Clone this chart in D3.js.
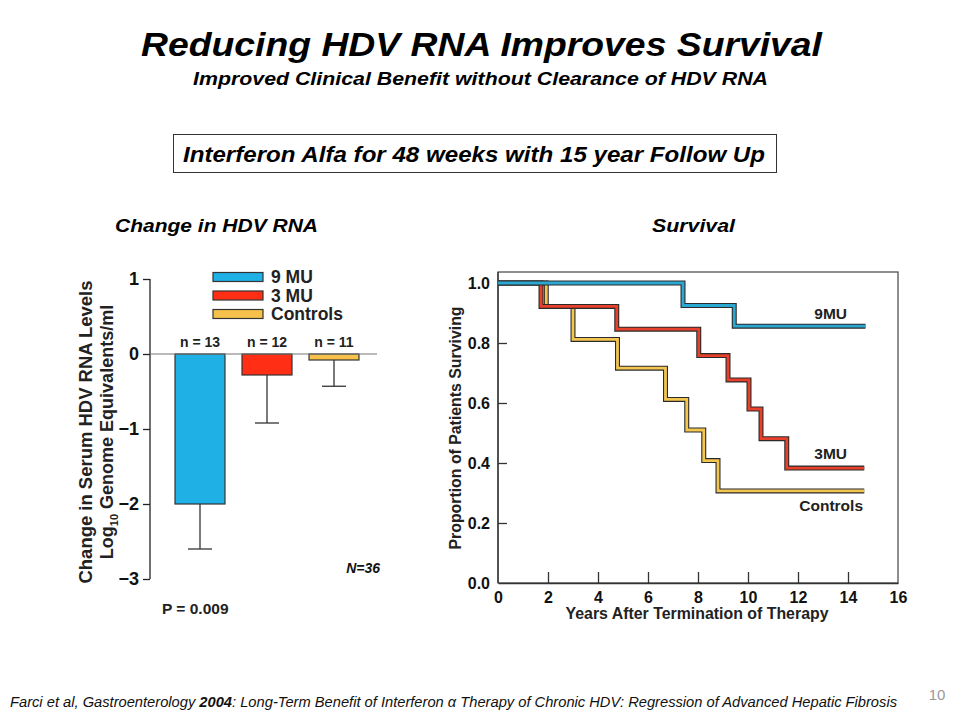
<!DOCTYPE html>
<html><head><meta charset="utf-8">
<script src="https://cdn.jsdelivr.net/npm/d3@7"></script>
<style>body{margin:0;background:#fff}svg{display:block}text{font-family:"Liberation Sans",Arial,sans-serif}</style>
</head><body>
<svg id="c" width="960" height="720"></svg>
<script>
// ---- Data ----
const groups = ["9 MU", "3 MU", "Controls"];
const groupN = ["n = 13", "n = 12", "n = 11"];
const meanChange = [-2.0, -0.28, -0.08];
const errLow = [-2.6, -0.92, -0.43];
const barColors = ["#1fb0e6", "#ff2e14", "#f5c14a"];
const barYTicks = [1, 0, -1, -2, -3];

const survSeries = ["9MU", "3MU", "Controls"];
const lineColors = ["#2ba8d2", "#e8412b", "#f3c650"];
// Kaplan-Meier steps: [time, survival after step]
const km9 = [[0, 1.0], [7.4, 0.925], [9.45, 0.856], [14.7, 0.856]];
const km3 = [[0, 1.0], [1.72, 0.922], [4.75, 0.846], [8.03, 0.758], [9.2, 0.677], [10.04, 0.58], [10.52, 0.481], [11.55, 0.383], [14.65, 0.383]];
const kmC = [[0, 1.0], [1.93, 0.922], [3.0, 0.812], [4.78, 0.716], [6.7, 0.612], [7.55, 0.51], [8.23, 0.408], [8.8, 0.307], [14.65, 0.307]];
const survXTicks = [0, 2, 4, 6, 8, 10, 12, 14, 16];
const survYTicks = [0.0, 0.2, 0.4, 0.6, 0.8, 1.0];

const svg = d3.select("#c");

function txt(x, y, s, size, opts) {
  opts = opts || {};
  const t = svg.append("text").attr("x", x).attr("y", y).attr("font-size", size)
    .attr("font-weight", opts.weight || "bold").attr("font-style", opts.style || "italic")
    .attr("text-anchor", opts.anchor || "middle").attr("fill", opts.fill || "#000").text(s);
  if (opts.len) t.attr("textLength", opts.len).attr("lengthAdjust", "spacingAndGlyphs");
  return t;
}

// ---- Titles ----
txt(481.5, 56, "Reducing HDV RNA Improves Survival", 34, {len: 681});
txt(480.5, 85, "Improved Clinical Benefit without Clearance of HDV RNA", 18.5, {len: 575});
svg.append("rect").attr("x", 173.5).attr("y", 134.5).attr("width", 603).attr("height", 38)
  .attr("fill", "none").attr("stroke", "#333").attr("stroke-width", 1);
txt(474, 162, "Interferon Alfa for 48 weeks with 15 year Follow Up", 21.5, {len: 582});
txt(216.5, 232, "Change in HDV RNA", 19, {len: 203});
txt(693.5, 232, "Survival", 19, {len: 83});

// ---- Bar chart ----
const by = d3.scaleLinear().domain([-3, 1]).range([579, 279]);
const bx = d3.scaleBand().domain(groups).range([166.5, 367.5]).paddingInner(0.254).paddingOuter(0.127);
const bg = svg.append("g");
const yAx = bg.append("g").attr("transform", "translate(150,0)")
  .call(d3.axisLeft(by).tickValues(barYTicks).tickSize(7).tickPadding(4)
    .tickFormat(d => d < 0 ? "\u2212" + Math.abs(d) : d));
yAx.select(".domain").attr("stroke", "#222").attr("stroke-width", 1.3).attr("d", "M0," + by(1) + "V" + by(-3));
yAx.selectAll(".tick line").attr("stroke", "#222").attr("stroke-width", 1.3);
yAx.selectAll(".tick text").attr("font-size", 18).attr("font-weight", "bold").attr("fill", "#111")
  .style("font-family", "Liberation Sans, Arial, sans-serif");

// error bars
groups.forEach((g, i) => {
  const cx = bx(g) + bx.bandwidth() / 2;
  bg.append("line").attr("x1", cx).attr("x2", cx).attr("y1", by(meanChange[i])).attr("y2", by(errLow[i]))
    .attr("stroke", "#333").attr("stroke-width", 1.3);
  bg.append("line").attr("x1", cx - 12).attr("x2", cx + 12).attr("y1", by(errLow[i])).attr("y2", by(errLow[i]))
    .attr("stroke", "#333").attr("stroke-width", 1.3);
});
bg.selectAll("rect.bar").data(groups).join("rect").attr("class", "bar")
  .attr("x", d => bx(d)).attr("width", bx.bandwidth())
  .attr("y", by(0)).attr("height", (d, i) => by(meanChange[i]) - by(0))
  .attr("fill", (d, i) => barColors[i]).attr("stroke", "#333").attr("stroke-width", 1.2);
bg.append("line").attr("x1", 150).attr("x2", 377).attr("y1", by(0)).attr("y2", by(0))
  .attr("stroke", "#777").attr("stroke-width", 1.2);
bg.selectAll("text.n").data(groupN).join("text").attr("class", "n")
  .attr("x", (d, i) => bx(groups[i]) + bx.bandwidth() / 2).attr("y", 347)
  .attr("text-anchor", "middle").attr("font-size", 14).attr("font-weight", "bold").attr("fill", "#222")
  .text(d => d);

// legend
groups.forEach((g, i) => {
  const ly = 277 + i * 18.5;
  bg.append("rect").attr("x", 213).attr("y", ly - 4.5).attr("width", 50).attr("height", 9)
    .attr("fill", barColors[i]).attr("stroke", "#333").attr("stroke-width", 1.2);
  bg.append("text").attr("x", 271).attr("y", ly + 6).attr("font-size", 17.5).attr("font-weight", "bold")
    .attr("fill", "#222").text(g);
});

// y label
bg.append("text").attr("transform", "translate(92,432) rotate(-90)")
  .attr("text-anchor", "middle").attr("font-size", 18).attr("font-weight", "bold").attr("fill", "#222")
  .attr("textLength", 303).attr("lengthAdjust", "spacingAndGlyphs")
  .text("Change in Serum HDV RNA Levels");
const yl2 = bg.append("text").attr("transform", "translate(113,432) rotate(-90)")
  .attr("text-anchor", "middle").attr("font-size", 18).attr("font-weight", "bold").attr("fill", "#222");
yl2.append("tspan").text("Log");
yl2.append("tspan").attr("font-size", 11).attr("dy", 5).text("10");
yl2.append("tspan").attr("dy", -5).text(" Genome Equivalents/ml");

bg.append("text").attr("x", 380).attr("y", 573).attr("text-anchor", "end").attr("font-size", 14)
  .attr("font-weight", "bold").attr("font-style", "italic").attr("fill", "#111").text("N=36");
bg.append("text").attr("x", 162).attr("y", 614).attr("font-size", 15.5).attr("font-weight", "bold")
  .attr("fill", "#222").text("P = 0.009");

// ---- Survival chart ----
const sx = d3.scaleLinear().domain([0, 16]).range([498, 898]);
const sy = d3.scaleLinear().domain([0, 1]).range([583, 283]);
const sg = svg.append("g");
sg.append("rect").attr("x", 498).attr("y", 272).attr("width", 400).attr("height", 311)
  .attr("fill", "none").attr("stroke", "#444").attr("stroke-width", 1.2);
const xAx = sg.append("g").attr("transform", "translate(0,583)")
  .call(d3.axisBottom(sx).tickValues(survXTicks).tickSizeInner(-11).tickSizeOuter(0).tickPadding(4));
xAx.select(".domain").attr("stroke", "#333").attr("stroke-width", 1.3);
xAx.selectAll(".tick line").attr("stroke", "#333").attr("stroke-width", 1.3);
xAx.selectAll(".tick text").attr("font-size", 16).attr("font-weight", "bold").attr("fill", "#111")
  .style("font-family", "Liberation Sans, Arial, sans-serif").attr("dy", "1em");
xAx.selectAll(".tick").filter(d => d === 0 || d === 16).select("line").remove();
const yAx2 = sg.append("g").attr("transform", "translate(498,0)")
  .call(d3.axisLeft(sy).tickValues(survYTicks).tickSizeInner(-9).tickSizeOuter(0).tickPadding(8)
    .tickFormat(d3.format(".1f")));
yAx2.select(".domain").attr("stroke", "#333").attr("stroke-width", 1.3).attr("d", "M0,272V583");
yAx2.selectAll(".tick line").attr("stroke", "#333").attr("stroke-width", 1.3);
yAx2.selectAll(".tick").filter(d => d === 0).select("line").remove();
yAx2.selectAll(".tick text").attr("font-size", 16).attr("font-weight", "bold").attr("fill", "#111")
  .style("font-family", "Liberation Sans, Arial, sans-serif");

const stepLine = d3.line().x(d => sx(d[0])).y(d => sy(d[1])).curve(d3.curveStepAfter);
const kms = [kmC, km3, km9];
const kmCols = [lineColors[2], lineColors[1], lineColors[0]];
kms.forEach((k, i) => {
  sg.append("path").attr("d", stepLine(k)).attr("fill", "none").attr("stroke", "#2a2a2a")
    .attr("stroke-width", 5).attr("stroke-linejoin", "miter");
  sg.append("path").attr("d", stepLine(k)).attr("fill", "none").attr("stroke", kmCols[i])
    .attr("stroke-width", 2.8).attr("stroke-linejoin", "miter");
});

sg.append("text").attr("x", 847).attr("y", 319).attr("text-anchor", "end").attr("font-size", 15.5)
  .attr("font-weight", "bold").attr("fill", "#222").text(survSeries[0]);
sg.append("text").attr("x", 847).attr("y", 459).attr("text-anchor", "end").attr("font-size", 15.5)
  .attr("font-weight", "bold").attr("fill", "#222").text(survSeries[1]);
sg.append("text").attr("x", 863).attr("y", 511).attr("text-anchor", "end").attr("font-size", 15.5)
  .attr("font-weight", "bold").attr("fill", "#222").text(survSeries[2]);

sg.append("text").attr("x", 697).attr("y", 619).attr("text-anchor", "middle").attr("font-size", 16)
  .attr("font-weight", "bold").attr("fill", "#222").attr("textLength", 263).attr("lengthAdjust", "spacingAndGlyphs")
  .text("Years After Termination of Therapy");
sg.append("text").attr("transform", "translate(461,428) rotate(-90)").attr("text-anchor", "middle")
  .attr("font-size", 16).attr("font-weight", "bold").attr("fill", "#222").attr("textLength", 243).attr("lengthAdjust", "spacingAndGlyphs")
  .text("Proportion of Patients Surviving");

// ---- Footer ----
const ft = svg.append("text").attr("x", 10).attr("y", 707).attr("font-size", 14).attr("font-style", "italic")
  .attr("fill", "#111").attr("textLength", 887).attr("lengthAdjust", "spacingAndGlyphs");
ft.append("tspan").text("Farci et al, Gastroenterology ");
ft.append("tspan").attr("font-weight", "bold").text("2004");
ft.append("tspan").text(": Long-Term Benefit of Interferon \u03b1 Therapy of Chronic HDV: Regression of Advanced Hepatic Fibrosis");
svg.append("text").attr("x", 937).attr("y", 700).attr("text-anchor", "middle").attr("font-size", 15)
  .attr("fill", "#999").text("10");
</script>
</body></html>
